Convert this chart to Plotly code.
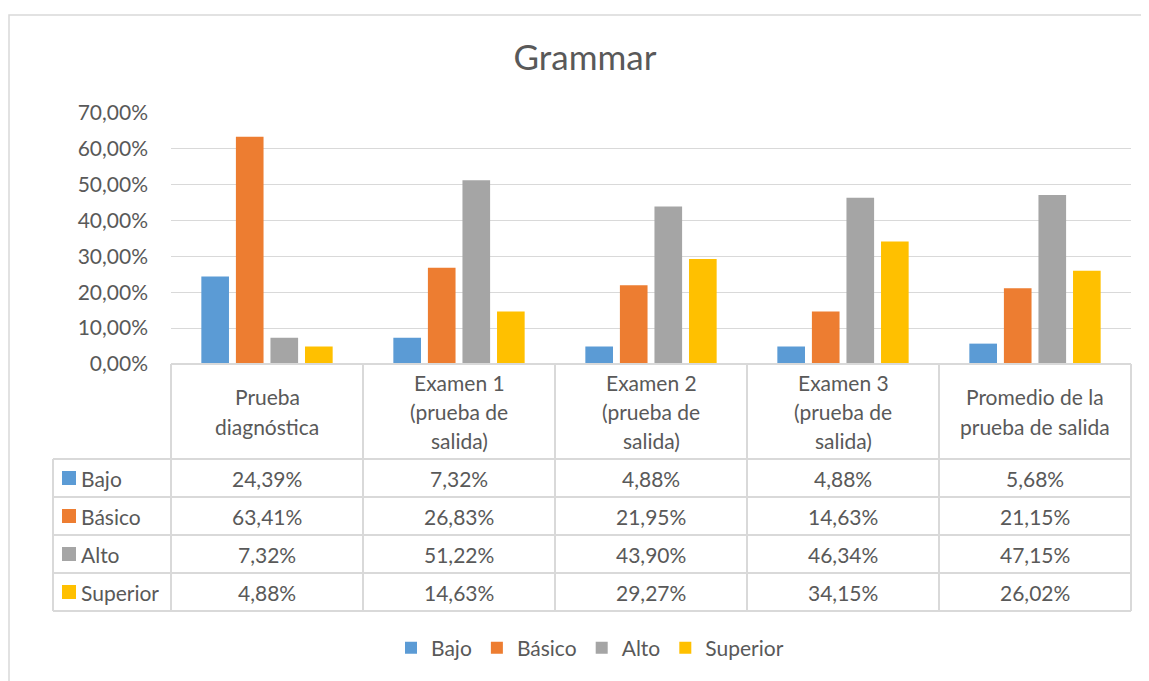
import plotly.graph_objects as go

categories = ["Prueba<br>diagnóstica", "Examen 1<br>(prueba de<br>salida)",
              "Examen 2<br>(prueba de<br>salida)", "Examen 3<br>(prueba de<br>salida)",
              "Promedio de la<br>prueba de salida"]
series_names = ["Bajo", "Básico", "Alto", "Superior"]
bajo = [24.39, 7.32, 4.88, 4.88, 5.68]
basico = [63.41, 26.83, 21.95, 14.63, 21.15]
alto = [7.32, 51.22, 43.90, 46.34, 47.15]
superior = [4.88, 14.63, 29.27, 34.15, 26.02]
series_values = [bajo, basico, alto, superior]
colors = ["#5B9BD5", "#ED7D31", "#A5A5A5", "#FFC000"]
y_ticks = [0, 10, 20, 30, 40, 50, 60, 70]
y_ticktext = [f"{v:.2f}".replace(".", ",") + "%" for v in y_ticks]

OFF = 8  # page body margin
W, H = 1149 - OFF, 681 - OFF
# plot area in reference pixels
L, R, T, B = 171, 1131, 113, 364
FONT = "Lato"
FS = 21
TXT = "#595959"
LINE = "#d9d9d9"

def px_x(px):
    return (px - L) / (R - L)

def px_y(py):
    return (B - py) / (B - T)

fig = go.Figure()
for name, vals, col in zip(series_names, series_values, colors):
    fig.add_trace(go.Bar(x=categories, y=vals, name=name, marker=dict(color=col, line=dict(width=0))))

shapes = []
annotations = []

# chart border
shapes.append(dict(type="rect", xref="paper", yref="paper", x0=px_x(9), x1=px_x(1190),
                   y0=px_y(720), y1=px_y(15), line=dict(color=LINE, width=1.5), layer="below"))

# table geometry
header_top, header_bot = 364, 459
row_h = 38
n_rows = len(series_names)
row_tops = [header_bot + i * row_h for i in range(n_rows + 1)]
col_w = (R - L) / len(categories)
col_edges = [L + i * col_w for i in range(len(categories) + 1)]
tbl_left = 53

shapes.append(dict(type="line", xref="paper", yref="paper", x0=px_x(L), x1=px_x(R),
                   y0=px_y(header_top), y1=px_y(header_top), line=dict(color=LINE, width=2)))
for yy in row_tops:
    shapes.append(dict(type="line", xref="paper", yref="paper", x0=px_x(tbl_left), x1=px_x(R),
                       y0=px_y(yy), y1=px_y(yy), line=dict(color=LINE, width=2)))
shapes.append(dict(type="line", xref="paper", yref="paper", x0=px_x(tbl_left), x1=px_x(tbl_left),
                   y0=px_y(header_bot), y1=px_y(row_tops[-1]), line=dict(color=LINE, width=2)))
for xx in col_edges:
    shapes.append(dict(type="line", xref="paper", yref="paper", x0=px_x(xx), x1=px_x(xx),
                       y0=px_y(header_top), y1=px_y(row_tops[-1]), line=dict(color=LINE, width=2)))

# header labels (per line)
line_sp = 29
hc = (header_top + header_bot) / 2
for cat in categories:
    lines = cat.split("<br>")
    n = len(lines)
    for i, ln in enumerate(lines):
        yy = hc + (i - (n - 1) / 2) * line_sp
        annotations.append(dict(x=cat, xref="x", y=px_y(yy), yref="paper", text=ln,
                                showarrow=False, xanchor="center", yanchor="middle",
                                font=dict(family=FONT, size=FS, color=TXT)))

# rows
for r, (name, vals, col) in enumerate(zip(series_names, series_values, colors)):
    yc = row_tops[r] + row_h / 2
    shapes.append(dict(type="rect", xref="paper", yref="paper", x0=px_x(62), x1=px_x(76),
                       y0=px_y(yc + 7), y1=px_y(yc - 7), fillcolor=col, line=dict(width=0)))
    annotations.append(dict(x=px_x(79), xref="paper", y=px_y(yc), yref="paper", text=name,
                            showarrow=False, xanchor="left", yanchor="middle",
                            font=dict(family=FONT, size=FS, color=TXT)))
    for cat, v in zip(categories, vals):
        annotations.append(dict(x=cat, xref="x", y=px_y(yc), yref="paper",
                                text=f"{v:.2f}".replace(".", ",") + "%",
                                showarrow=False, xanchor="center", yanchor="middle",
                                font=dict(family=FONT, size=FS, color=TXT)))

fig.update_layout(
    width=W, height=H,
    margin=dict(l=L - OFF, r=W - (R - OFF), t=T - OFF, b=H - (B - OFF), pad=0),
    paper_bgcolor="white", plot_bgcolor="white",
    barmode="group", bargap=0.28, bargroupgap=0.2,
    title=dict(text="Grammar", x=(585 - OFF) / W, xanchor="center", y=1 - (58 - OFF) / H,
               yanchor="middle", font=dict(family=FONT, size=35, color=TXT)),
    font=dict(family=FONT, size=FS, color=TXT),
    showlegend=True,
    legend=dict(orientation="h", x=px_x(590), xanchor="center", y=px_y(648), yanchor="middle",
                font=dict(family=FONT, size=FS, color=TXT), itemwidth=30, traceorder="normal",
                bgcolor="rgba(0,0,0,0)"),
    shapes=shapes, annotations=annotations,
)
fig.update_xaxes(showticklabels=False, showgrid=False, showline=False, zeroline=False,
                 range=[-0.5, len(categories) - 0.5])
fig.update_yaxes(range=[0, 70], tickmode="array", tickvals=y_ticks, ticktext=y_ticktext,
                 showgrid=True, gridcolor=LINE, gridwidth=1.3, zeroline=False, showline=False,
                 ticklabelstandoff=22, tickfont=dict(family=FONT, size=FS, color=TXT))

fig.write_html("out.html")
